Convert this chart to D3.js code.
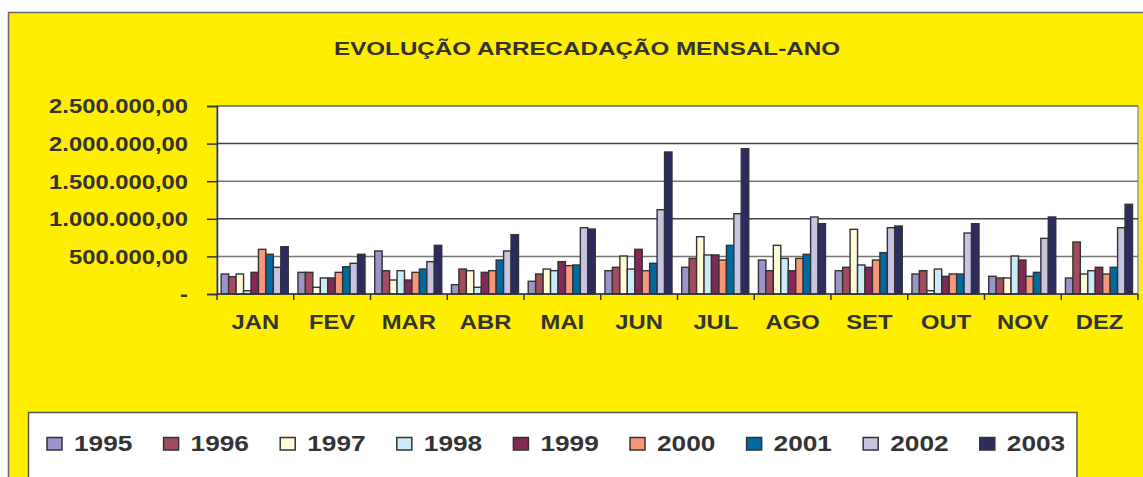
<!DOCTYPE html>
<html>
<head>
<meta charset="utf-8">
<script src="https://cdn.jsdelivr.net/npm/d3@7"></script>
<style>
  body { margin: 0; background: #fff; }
  text { font-family: "Liberation Sans", Arial, sans-serif; font-weight: bold; fill: #333; }
</style>
</head>
<body>
<div id="chart-area"></div>
<script>
var months = ["JAN", "FEV", "MAR", "ABR", "MAI", "JUN", "JUL", "AGO", "SET", "OUT", "NOV", "DEZ"];
var years = ["1995", "1996", "1997", "1998", "1999", "2000", "2001", "2002", "2003"];
var yTicks = [0, 500000, 1000000, 1500000, 2000000, 2500000];

// valores, um array por ano
var s1995 = [266000, 288000, 572000, 124000, 169000, 310000, 355000, 452000, 310000, 266000, 235000, 213000];
var s1996 = [230000, 288000, 310000, 332000, 266000, 355000, 474000, 310000, 355000, 310000, 213000, 691000];
var s1997 = [266000, 89000, 186000, 310000, 332000, 505000, 762000, 647000, 860000, 44000, 213000, 266000];
var s1998 = [44000, 213000, 310000, 89000, 310000, 332000, 519000, 474000, 386000, 332000, 505000, 310000];
var s1999 = [288000, 213000, 186000, 288000, 430000, 594000, 519000, 310000, 355000, 235000, 452000, 355000];
var s2000 = [594000, 288000, 288000, 310000, 377000, 310000, 452000, 474000, 452000, 266000, 235000, 266000];
var s2001 = [528000, 363000, 332000, 452000, 386000, 408000, 647000, 528000, 550000, 266000, 288000, 355000];
var s2002 = [355000, 408000, 430000, 572000, 882000, 1121000, 1068000, 1024000, 882000, 811000, 740000, 882000];
var s2003 = [629000, 528000, 647000, 789000, 864000, 1888000, 1932000, 935000, 904000, 935000, 1024000, 1193000];

var series = [s1995, s1996, s1997, s1998, s1999, s2000, s2001, s2002, s2003];
var colors = ["#9b93c9", "#a14d5e", "#fffbd6", "#cceaf8", "#822955", "#f7977a", "#00699e", "#c8c3e3", "#2c2c60"];

var W = 1143, H = 477;
var plot = { left: 217, right: 1138, top: 106, bottom: 294 };

var svg = d3.select("#chart-area").append("svg")
    .attr("width", W)
    .attr("height", H);

// fundo amarelo
svg.append("rect")
    .attr("x", 8.5).attr("y", 12.5)
    .attr("width", W).attr("height", H)
    .attr("fill", "#ffee00")
    .attr("stroke", "#666")
    .attr("stroke-width", 1.5);

svg.append("text")
    .attr("class", "fixed")
    .attr("x", 334).attr("y", 55)
    .attr("font-size", 19)
    .attr("textLength", 506)
    .attr("lengthAdjust", "spacingAndGlyphs")
    .text("EVOLUÇÃO ARRECADAÇÃO MENSAL-ANO");

var x0 = d3.scaleBand().domain(months).range([plot.left, plot.right]);
var x1 = d3.scaleBand().domain(years).range([4.2, x0.bandwidth() - 5.5]);
var y = d3.scaleLinear().domain([0, 2500000]).range([plot.bottom, plot.top]);

svg.append("rect")
    .attr("x", plot.left).attr("y", plot.top)
    .attr("width", plot.right - plot.left).attr("height", plot.bottom - plot.top)
    .attr("fill", "#fff")
    .attr("stroke", "#999")
    .attr("stroke-width", 1.5);

svg.append("g").selectAll("line")
    .data(yTicks.slice(1))
    .enter().append("line")
    .attr("x1", plot.left).attr("x2", plot.right)
    .attr("y1", (d) => y(d)).attr("y2", (d) => y(d))
    .attr("stroke", (d, i) => i % 2 ? "#444" : "#777")
    .attr("stroke-width", 1.5);

var loc = d3.formatLocale({ decimal: ",", thousands: ".", grouping: [3], currency: ["", ""] });
var fmt = loc.format(",.2f");

var yAxis = svg.append("g")
    .attr("transform", "translate(" + plot.left + ",0)")
    .call(d3.axisLeft(y).tickValues(yTicks).tickSize(10).tickPadding(19)
        .tickFormat((d) => d === 0 ? "-" : fmt(d)));
yAxis.select(".domain").attr("stroke", "#333").attr("stroke-width", 1.5);
yAxis.selectAll(".tick line").attr("stroke", "#333").attr("stroke-width", 1.5);
yAxis.selectAll("text").attr("font-size", 19.5).attr("fill", "#333")
    .attr("font-family", null).attr("dy", "0.35em");

// barras
var groups = svg.append("g").selectAll("g")
    .data(months)
    .enter().append("g")
    .attr("transform", (d) => "translate(" + x0(d) + ",0)");

groups.selectAll("rect")
    .data((m, mi) => years.map((yr, k) => ({ year: yr, k: k, value: series[k][mi] })))
    .enter().append("rect")
    .attr("x", (d) => x1(d.year))
    .attr("width", x1.bandwidth())
    .attr("y", (d) => y(d.value))
    .attr("height", (d) => y(0) - y(d.value))
    .attr("fill", (d) => colors[d.k])
    .attr("stroke", "#333")
    .attr("stroke-width", 1.4);

// eixo x
svg.append("line")
    .attr("x1", plot.left).attr("x2", plot.right)
    .attr("y1", plot.bottom).attr("y2", plot.bottom)
    .attr("stroke", "#333").attr("stroke-width", 1.5);

svg.append("g").selectAll("line")
    .data(months.concat(["end"]))
    .enter().append("line")
    .attr("x1", (d) => d === "end" ? plot.right : x0(d))
    .attr("x2", (d) => d === "end" ? plot.right : x0(d))
    .attr("y1", plot.bottom).attr("y2", plot.bottom + 6)
    .attr("stroke", "#333").attr("stroke-width", 1.5);

svg.append("g").selectAll("text")
    .data(months)
    .enter().append("text")
    .attr("x", (d) => x0(d) + x0.bandwidth() / 2)
    .attr("y", 329)
    .attr("text-anchor", "middle")
    .attr("font-size", 19.5)
    .text((d) => d);

// legenda
svg.append("rect")
    .attr("x", 28.5).attr("y", 412.5)
    .attr("width", 1048.5).attr("height", 100)
    .attr("fill", "#fff")
    .attr("stroke", "#555")
    .attr("stroke-width", 1.5);

var leg = svg.append("g").selectAll("g")
    .data(years)
    .enter().append("g")
    .attr("transform", (d, i) => "translate(" + (47 + i * 116.6) + ",0)");

leg.append("rect")
    .attr("x", 0).attr("y", 437.5)
    .attr("width", 15).attr("height", 12.5)
    .attr("fill", (d, i) => colors[i])
    .attr("stroke", "#333")
    .attr("stroke-width", 1.5);

leg.append("text")
    .attr("x", 27).attr("y", 451)
    .attr("font-size", 21.5)
    .text((d) => d);

// texto um pouco esticado na horizontal, como no original
svg.selectAll("text:not(.fixed)").each(function () {
    var w = this.getComputedTextLength();
    d3.select(this).attr("textLength", w * 1.22).attr("lengthAdjust", "spacingAndGlyphs");
});
</script>
</body>
</html>
